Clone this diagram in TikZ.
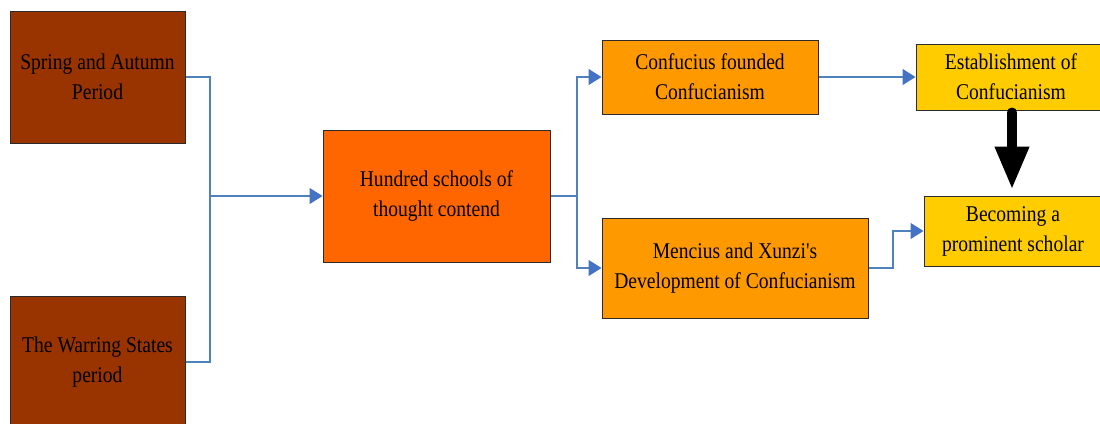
\documentclass[tikz,border=0pt]{standalone}
\usepackage{fontspec}
\setmainfont{Liberation Serif}[FakeStretch=0.87]
\newfontfamily\boxfont{Liberation Serif}[FakeStretch=0.87]
\usetikzlibrary{arrows.meta}
\definecolor{brownbox}{HTML}{993300}
\definecolor{orangebox}{HTML}{FF6600}
\definecolor{amberbox}{HTML}{FF9900}
\definecolor{goldbox}{HTML}{FFCC00}
\definecolor{linkblue}{HTML}{4F81BD}
\definecolor{tipblue}{HTML}{4472C4}
\definecolor{edgegray}{HTML}{2B2B2B}
\tikzset{
  boxstyle/.style={draw=edgegray, line width=1pt, rectangle, inner sep=0pt,
    align=center, font=\boxfont\fontsize{22.5}{30}\selectfont, text=black},
  link/.style={draw=linkblue, line width=1.3pt,
    -{Triangle[length=13pt,width=16pt,fill=tipblue,color=tipblue]}},
  plainlink/.style={draw=linkblue, line width=1.3pt},
  bigarrow/.style={draw=black, line width=10pt, line cap=round,
    -{Triangle[length=43pt,width=32pt]}}
}
\begin{document}
\begin{tikzpicture}[x=1pt,y=-1pt]
\useasboundingbox (0,0) rectangle (1100,423);
\clip (0,0) rectangle (1100,423);
% nodes
\node[boxstyle, fill=brownbox, minimum width=175pt, minimum height=132pt] (A) at (97.5,77) {Spring and Autumn\\Period};
\node[boxstyle, fill=brownbox, minimum width=175pt, minimum height=132pt] (B) at (97.5,362) {The Warring States\\period};
\node[boxstyle, fill=orangebox, minimum width=227pt, minimum height=132pt] (C) at (436.5,196) {Hundred schools of\\thought contend};
\node[boxstyle, fill=amberbox, minimum width=216pt, minimum height=74pt] (D) at (710,77) {Confucius founded\\Confucianism};
\node[boxstyle, fill=amberbox, minimum width=266pt, minimum height=100pt] (E) at (735,268) {Mencius and Xunzi's\\Development of Confucianism};
\node[boxstyle, fill=goldbox, minimum width=190pt, minimum height=66pt] (F) at (1011,77) {Establishment of\\Confucianism};
\node[boxstyle, fill=goldbox, minimum width=178pt, minimum height=70pt] (G) at (1013,231) {Becoming a\\prominent scholar};
% junction coordinates
\coordinate (j1) at (210,196);
\coordinate (j2) at (577,196);
\coordinate (j3) at (893,268);
% connectors
\draw[plainlink] (A.east) -| (j1);
\draw[plainlink] (B.east) -| (j1);
\draw[link] (j1) -- (C.west);
\draw[plainlink] (C.east) -- (j2);
\draw[link] (j2) |- (D.west);
\draw[link] (j2) |- (E.west);
\draw[link] (D.east) -- (F.west);
\draw[link] (E.east) -- (j3) |- (G.west);
\draw[bigarrow] ([yshift=-2pt]F.south -| 1012,0) -- ([yshift=6pt]G.north -| 1012,0);
\end{tikzpicture}
\end{document}
